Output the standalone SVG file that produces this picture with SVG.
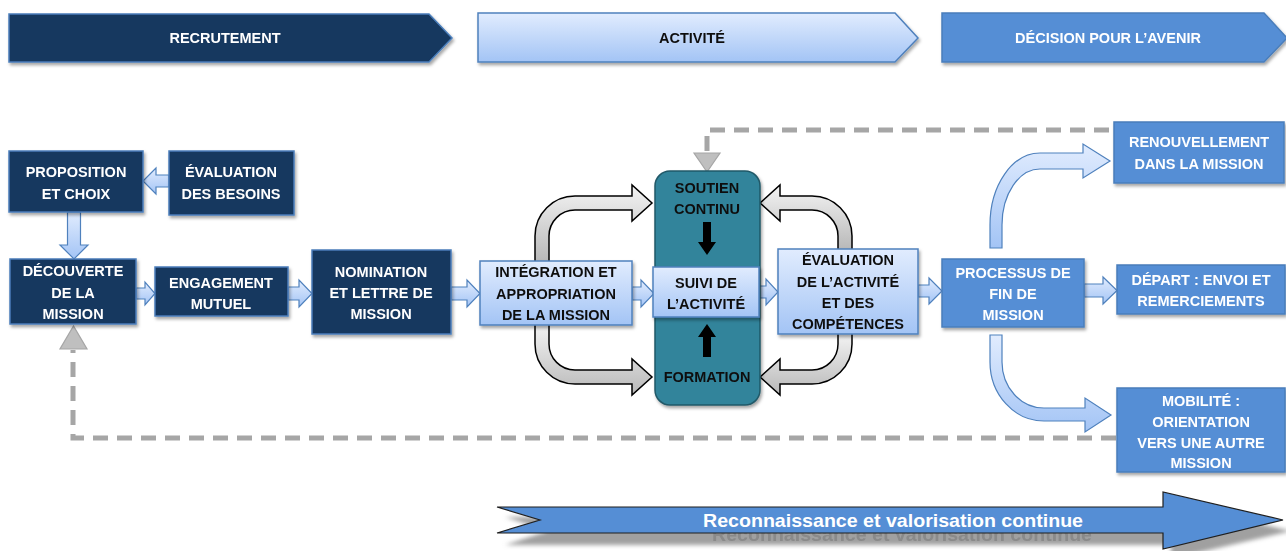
<svg xmlns="http://www.w3.org/2000/svg" width="1286" height="551" viewBox="0 0 1286 551">
  <defs>
    <linearGradient id="gLight" x1="0" y1="0" x2="0" y2="1">
      <stop offset="0" stop-color="#e1ecfe"/>
      <stop offset="1" stop-color="#a3c4f5"/>
    </linearGradient>
    <linearGradient id="gGray" x1="0" y1="0" x2="0" y2="1">
      <stop offset="0" stop-color="#f4f4f4"/>
      <stop offset="1" stop-color="#b8b8b8"/>
    </linearGradient>
    <filter id="shadow" x="-10%" y="-10%" width="130%" height="140%">
      <feDropShadow dx="1.5" dy="2.5" stdDeviation="1.5" flood-color="#000" flood-opacity="0.35"/>
    </filter>
    <filter id="soft" x="-5%" y="-20%" width="110%" height="160%">
      <feGaussianBlur stdDeviation="2"/>
    </filter>
    <filter id="softText">
      <feGaussianBlur stdDeviation="0.6"/>
    </filter>
  </defs>
  <style>
    text { font-family: "Liberation Sans", Arial, sans-serif; font-weight: bold; font-size: 14.5px; text-anchor: middle; }
    .w { fill: #ffffff; }
    .k { fill: #111111; }
    .navy { fill: #17375e; stroke: #4a7ebb; stroke-width: 1.5; }
    .mid { fill: #558ed5; stroke: #4a7ebb; stroke-width: 1.5; }
    .light { fill: url(#gLight); stroke: #4f81bd; stroke-width: 1.5; }
    .teal { fill: #31849b; stroke: #215968; stroke-width: 1.5; }
    .gray { fill: url(#gGray); stroke: #000; stroke-width: 1.5; }
    .blk { fill: url(#gLight); stroke: #4f81bd; stroke-width: 1.2; }
    .dash { fill: none; stroke: #a6a6a6; stroke-width: 5; stroke-dasharray: 15 9; }
    .tri { fill: #bfbfbf; stroke: #a6a6a6; stroke-width: 1.2; }
    .band { font-size: 19px; }
  </style>

  <!-- phase banners -->
  <g id="phase-recrutement" filter="url(#shadow)">
    <path class="navy" d="M9,14 L429,14 L452,38 L429,62 L9,62 Z"/>
    <text class="w" x="225" y="43">RECRUTEMENT</text>
  </g>
  <g id="phase-activite" filter="url(#shadow)">
    <path class="light" d="M478,13 L895,13 L918,38 L895,62 L478,62 Z"/>
    <text class="k" x="692" y="43">ACTIVITÉ</text>
  </g>
  <g id="phase-decision" filter="url(#shadow)">
    <path class="mid" d="M942,13 L1264,13 L1287,38 L1264,62 L942,62 Z"/>
    <text class="w" x="1108" y="43">DÉCISION POUR L’AVENIR</text>
  </g>

  <!-- connectors -->
  <g id="connectors">
    <!-- feedback loops (dashed) -->
    <path class="dash" d="M707,151 L707,130 L1114,130"/>
    <polygon class="tri" points="694,153 720,153 707,172"/>
    <path class="dash" d="M1116,438 L73,438 L73,350"/>
    <polygon class="tri" points="60,349 87,349 73.5,326"/>

    <!-- block arrows -->
    <path class="blk" d="M169,175 L156,175 L156,168 L143,181 L156,194 L156,187 L169,187 Z"/>
    <path class="blk" d="M67.5,212 L67.5,245 L60,245 L74,259 L88,245 L80.5,245 L80.5,212 Z"/>
    <path class="blk" d="M136,288 L145,288 L145,282 L155,293.5 L145,305 L145,299 L136,299 Z"/>
    <path class="blk" d="M288,287 L299,287 L299,280 L312,293.5 L299,307 L299,300 L288,300 Z"/>
    <path class="blk" d="M451,287 L467,287 L467,280 L480,293.5 L467,307 L467,300 L451,300 Z"/>
    <path class="blk" d="M632,287 L641,287 L641,280 L654,293.5 L641,307 L641,300 L632,300 Z"/>
    <path class="blk" d="M759,286 L766,286 L766,279 L778,292 L766,305 L766,298 L759,298 Z"/>
    <path class="blk" d="M918,285 L929,285 L929,278 L942,291 L929,304 L929,297 L918,297 Z"/>
    <path class="blk" d="M1084,284 L1103,284 L1103,277 L1117,290.5 L1103,304 L1103,297 L1084,297 Z"/>

    <!-- curved gray arrows around the activity column -->
    <path class="gray" d="M535,262 L535,236 A40,40 0 0 1 575,196 L632,196 L632,185 L652,203 L632,221 L632,210 L575,210 A26,26 0 0 0 549,236 L549,262 Z"/>
    <path class="gray" d="M852,250 L852,236 A40,40 0 0 0 812,196 L780,196 L780,185 L760,203 L780,221 L780,210 L812,210 A26,26 0 0 1 838,236 L838,250 Z"/>
    <path class="gray" d="M535,324 L535,344 A40,40 0 0 0 575,384 L632,384 L632,395 L652,377 L632,359 L632,370 L575,370 A26,26 0 0 1 549,344 L549,324 Z"/>
    <path class="gray" d="M852,333 L852,344 A40,40 0 0 1 812,384 L780,384 L780,395 L760,377 L780,359 L780,370 L812,370 A26,26 0 0 0 838,344 L838,333 Z"/>

    <!-- curved blue arrows to the outcomes -->
    <path class="blk" d="M990,248 L990,225 A50,72 0 0 1 1040,153 L1083,153 L1083,144 L1110,161 L1083,178 L1083,169 L1040,169 A38,56 0 0 0 1002,225 L1002,248 Z"/>
    <path class="blk" d="M990,335 L990,362 A54,59 0 0 0 1044,421 L1085,421 L1085,432 L1111,415 L1085,398 L1085,408 L1044,408 A42,46 0 0 1 1002,362 L1002,335 Z"/>
  </g>

  <!-- recruitment -->
  <g id="proposition" filter="url(#shadow)">
    <rect class="navy" x="9" y="151" width="134" height="61"/>
    <text class="w" x="76" y="177">PROPOSITION</text>
    <text class="w" x="76" y="199">ET CHOIX</text>
  </g>
  <g id="evaluation-besoins" filter="url(#shadow)">
    <rect class="navy" x="169" y="151" width="125" height="64"/>
    <text class="w" x="231" y="177">ÉVALUATION</text>
    <text class="w" x="231" y="199">DES BESOINS</text>
  </g>
  <g id="decouverte" filter="url(#shadow)">
    <rect class="navy" x="10" y="259" width="126" height="65"/>
    <text class="w" x="73" y="276">DÉCOUVERTE</text>
    <text class="w" x="73" y="298">DE LA</text>
    <text class="w" x="73" y="319">MISSION</text>
  </g>
  <g id="engagement" filter="url(#shadow)">
    <rect class="navy" x="155" y="267" width="133" height="49"/>
    <text class="w" x="221" y="288">ENGAGEMENT</text>
    <text class="w" x="221" y="309">MUTUEL</text>
  </g>
  <g id="nomination" filter="url(#shadow)">
    <rect class="navy" x="312" y="250" width="139" height="84"/>
    <text class="w" x="381" y="277">NOMINATION</text>
    <text class="w" x="381" y="298">ET LETTRE DE</text>
    <text class="w" x="381" y="319">MISSION</text>
  </g>

  <!-- activity -->
  <g id="integration" filter="url(#shadow)">
    <rect class="light" x="480" y="261" width="152" height="64"/>
    <text class="k" x="556" y="277">INTÉGRATION ET</text>
    <text class="k" x="556" y="299">APPROPRIATION</text>
    <text class="k" x="556" y="320">DE LA MISSION</text>
  </g>
  <g id="soutien-formation" filter="url(#shadow)">
    <rect class="teal" x="655" y="171" width="105" height="234" rx="15"/>
    <text class="k" x="707" y="193">SOUTIEN</text>
    <text class="k" x="707" y="214">CONTINU</text>
    <path fill="#000" d="M703,222 L711,222 L711,242 L716,242 L707,255 L698,242 L703,242 Z"/>
    <path fill="#000" d="M703,357 L711,357 L711,337 L716,337 L707,324 L698,337 L703,337 Z"/>
    <text class="k" x="707" y="382">FORMATION</text>
  </g>
  <g id="suivi" filter="url(#shadow)">
    <rect class="light" x="653" y="267" width="106" height="50"/>
    <text class="k" x="706" y="288">SUIVI DE</text>
    <text class="k" x="706" y="309">L’ACTIVITÉ</text>
  </g>
  <g id="evaluation-activite" filter="url(#shadow)">
    <rect class="light" x="778" y="249" width="140" height="85"/>
    <text class="k" x="848" y="265">ÉVALUATION</text>
    <text class="k" x="848" y="287">DE L’ACTIVITÉ</text>
    <text class="k" x="848" y="308">ET DES</text>
    <text class="k" x="848" y="329">COMPÉTENCES</text>
  </g>

  <!-- decision -->
  <g id="processus" filter="url(#shadow)">
    <rect class="mid" x="942" y="259" width="142" height="68"/>
    <text class="w" x="1013" y="278">PROCESSUS DE</text>
    <text class="w" x="1013" y="299">FIN DE</text>
    <text class="w" x="1013" y="320">MISSION</text>
  </g>
  <g id="renouvellement" filter="url(#shadow)">
    <rect class="mid" x="1114" y="122" width="170" height="61"/>
    <text class="w" x="1199" y="147">RENOUVELLEMENT</text>
    <text class="w" x="1199" y="169">DANS LA MISSION</text>
  </g>
  <g id="depart" filter="url(#shadow)">
    <rect class="mid" x="1117" y="265" width="168" height="49"/>
    <text class="w" x="1201" y="285">DÉPART : ENVOI ET</text>
    <text class="w" x="1201" y="306">REMERCIEMENTS</text>
  </g>
  <g id="mobilite" filter="url(#shadow)">
    <rect class="mid" x="1117" y="388" width="168" height="84"/>
    <text class="w" x="1201" y="406">MOBILITÉ :</text>
    <text class="w" x="1201" y="427">ORIENTATION</text>
    <text class="w" x="1201" y="448">VERS UNE AUTRE</text>
    <text class="w" x="1201" y="468">MISSION</text>
  </g>

  <!-- continuous recognition band -->
  <g id="reconnaissance">
    <path fill="#a0a0a0" filter="url(#soft)" d="M505,517 L1171,517 L1171,503 L1291,531 L1171,559 L1171,545 L505,545 L548,531 Z"/>
    <text class="band" x="902" y="541" fill="#8a8a8a" filter="url(#softText)" textLength="380" lengthAdjust="spacingAndGlyphs">Reconnaissance et valorisation continue</text>
    <path fill="#558ed5" stroke="#1f1f1f" stroke-width="1.2" d="M497,507 L1163,507 L1163,492 L1283,520 L1163,549 L1163,533 L497,533 L540,520 Z"/>
    <text class="w band" x="893" y="527" textLength="380" lengthAdjust="spacingAndGlyphs">Reconnaissance et valorisation continue</text>
  </g>
</svg>
